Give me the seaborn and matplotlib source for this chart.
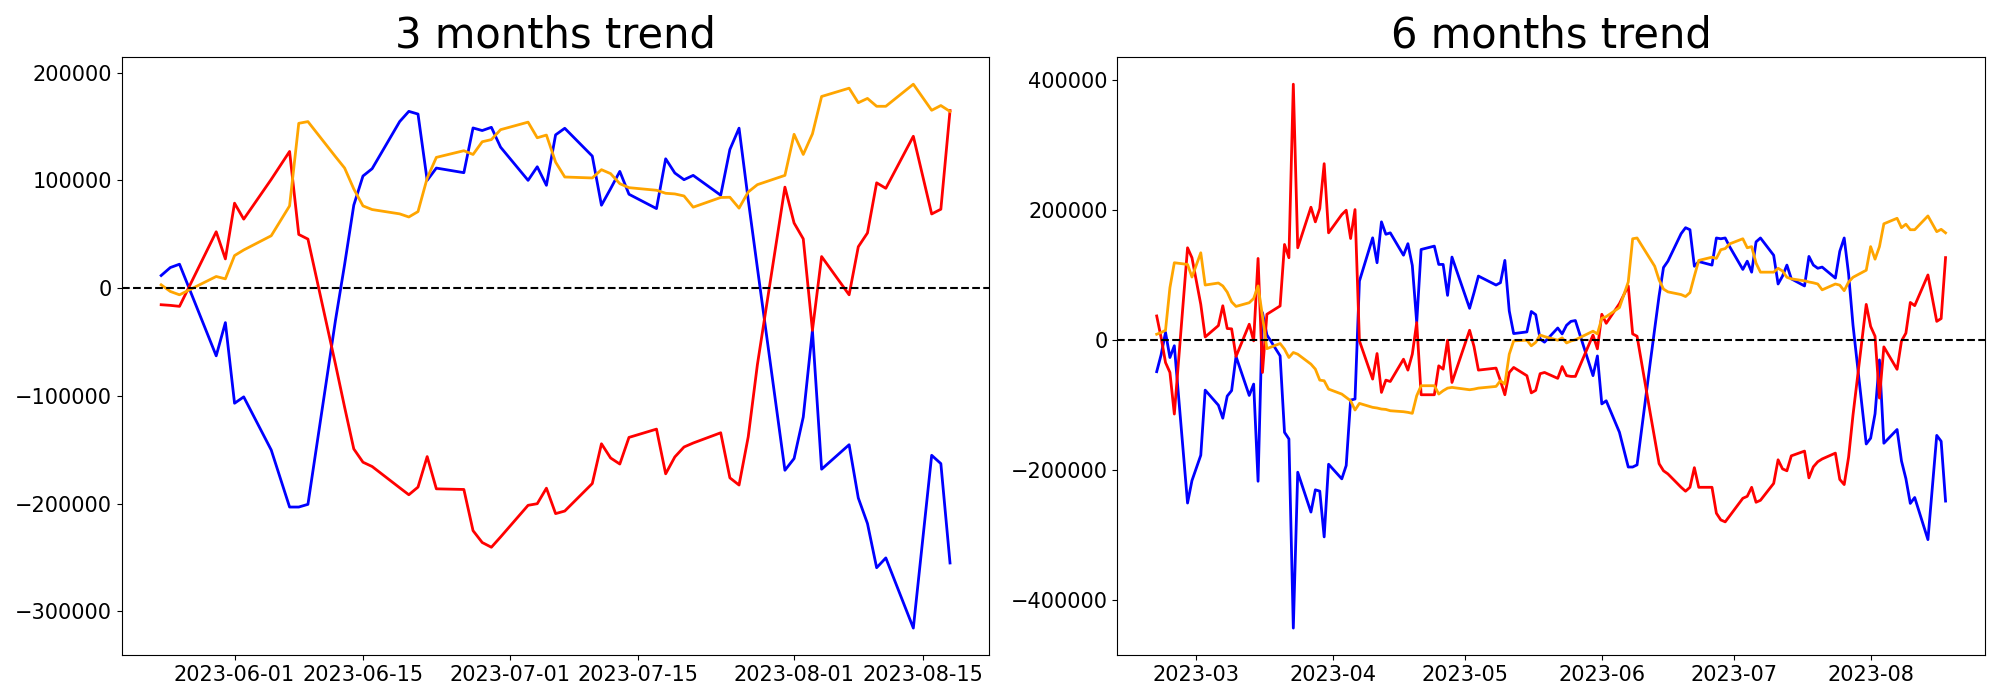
import pandas as pd
import matplotlib
matplotlib.use('Agg')
import matplotlib.pyplot as plt
import seaborn as sns

# trading calendar (KRX holidays removed)
holidays = ['2023-03-01', '2023-05-01', '2023-05-05', '2023-05-29', '2023-06-06', '2023-08-15']
dates_6m = pd.bdate_range('2023-02-20', '2023-08-18', freq='C', holidays=holidays)
dates_3m = dates_6m[-60:]

# 3 months trend
blue_3m = [11700, 19100, 22200, -62800, -32000,
           -106800, -100900, -150200, -203100, -203100, -200600, -30000, 22000, 77000, 104000, 110800,
           154500, 164000, 161500, 100000, 111400, 107100, 148600, 146200, 149200, 130800,
           100000, 112600, 95400, 142200, 148300, 122500, 76900, 92300, 108300, 87100,
           73800, 120000, 106800, 100600, 104600, 86200, 128600, 148400, 82000, 18700, -169000,
           -158100, -119600, -39200, -168000, -145300, -194700, -218400, -259400, -250300,
           -315400, -155100, -162800, -255000]
red_3m = [-15400, -16000, -16900, 52300, 27100,
          78800, 64000, 100900, 126800, 49800, 45500, -70500, -110500, -149200, -161500, -165500,
          -185200, -191700, -184600, -156300, -186200, -186800, -225000, -236000, -240400, -230900,
          -201500, -200000, -185600, -209200, -206800, -181300, -144400, -157600, -163200, -138500,
          -130800, -172300, -156600, -147400, -143700, -134200, -176000, -182700, -138000, -71000, 93700,
          60400, 45700, -39200, 29300, -6200, 38400, 51200, 97700, 92600,
          140900, 68800, 73200, 164700]
orange_3m = [3100, -3100, -6200, 10800, 8600,
             30200, 35400, 48600, 76300, 152900, 154500, 122000, 111400, 92000, 76300, 72900,
             68900, 66000, 71000, 102000, 121300, 127500, 124000, 135800, 137800, 147000,
             154000, 139500, 142000, 116900, 103100, 102200, 109900, 106200, 96900, 93200,
             90800, 88000, 87400, 85500, 75100, 84100, 84300, 74200, 89200, 96000, 104600,
             142700, 124000, 143100, 177800, 185500, 172000, 176000, 168700, 168700,
             189200, 165000, 169400, 163900]

# 6 months trend
blue_6m = [-48400, -22400, 12100, -26600, -8500, -250500, -216000,
           -177000, -76800, -100000, -120000, -86000, -77500, -25000, -85000, -67500, -217000,
           42500, 8200, -24000, -141700, -151900, -442900, -203100, -264400, -230200, -232200,
           -302600, -190800,
           -213300, -192800, -92100, -90500, 91000, 157500, 119200, 182100, 163000, 165200,
           130800, 148500, 115000, 27100, 139600, 144800, 116600, 116600, 69000, 127900,
           49100, 73100, 98700, 84900, 88500, 122800, 45000, 10200, 12800, 44200,
           39300, 1800, -3000, 18800, 9700, 23000, 29000, 30300, -54500, -24200,
           -98000, -93200, -141600, -195100, -195100, -191800, -33900, 17500, 68400, 111900,
           121600, 164000, 173100, 170000, 113800, 121000, 115600, 157300, 156100, 157300, 144000,
           108900, 121600, 104700, 151300, 157300, 130700, 86500, 98600, 115600, 94400,
           83500, 128900, 115600, 110700, 112500, 95600, 136800, 157300, 101700, 23000, -159700,
           -150700, -113200, -30300, -158500, -137400, -185800, -213000, -251100, -242000,
           -306800, -146400, -155500, -247500]
red_6m = [37300, 4100, -34300, -49600, -113600, 142200, 126900,
          55200, 5000, 22500, 53000, 18000, 17500, -25000, 24600, -1000, 125800,
          -49600, 39900, 52700, 147300, 126900, 393900, 142200, 204600, 182100, 202600,
          271600, 165200,
          193300, 200000, 156500, 201000, -1000, -59800, -20500, -80300, -61400, -63500,
          -29200, -46000, -21500, 27100, -83900, -83900, -39400, -44500, 0, -65000,
          15300, -9700, -46000, -42900, -62400, -83900, -49600, -41900, -54600, -81000,
          -77200, -51500, -49600, -58700, -40500, -54500, -55700, -55700, 7900, -13300,
          39900, 26000, 56300, 83500, 9700, 6100, -112600, -151300, -190000, -200900,
          -205700, -226300, -232300, -226300, -196100, -226300, -226300, -266200, -276500, -279500, -270500,
          -243200, -240200, -226300, -249300, -246300, -220300, -184000, -197900, -200900, -177900,
          -170600, -211800, -194800, -187000, -182700, -173700, -214200, -222100, -179700, -115000, 55100,
          21200, 6100, -89000, -10300, -44800, -1200, 10900, 58100, 53200,
          100400, 29000, 33300, 127100]
orange_6m = [9200, 11800, 15300, 80800, 119200, 116600, 97200,
             134500, 84900, 88000, 83500, 74000, 59000, 52000, 57700, 64200, 83500,
             37000, -13000, -5100, -13800, -26600, -18900, -21500, -36800, -44500, -61400,
             -62400, -75200,
             -82900, -88000, -93100, -107400, -97200, -103300, -104300, -105900, -106500, -108500,
             -110000, -111000, -112500, -85400, -70000, -70000, -82800, -77700, -73700, -72600,
             -76200, -75200, -73700, -71100, -62400, -67500, -21500, -1000, 0, -8600,
             -3300, 8000, 5600, 0, 3600, -4200, -1200, 600, 13900, 9700,
             33900, 36300, 50200, 89600, 156100, 157300, 124700, 113800, 92600, 78700,
             74400, 70200, 67200, 73200, 98600, 122800, 127700, 125900, 139200, 141000, 148200,
             156100, 142200, 144000, 118600, 104700, 104700, 110700, 106500, 96800, 94400,
             91400, 89600, 88300, 86500, 77500, 86500, 84700, 76200, 89600, 96800, 107700,
             144000, 124700, 144000, 179100, 187600, 173100, 178500, 170000, 170000,
             191200, 167000, 170600, 165200]

panels = [
    ("3 months trend", dates_3m, blue_3m, red_3m, orange_3m),
    ("6 months trend", dates_6m, blue_6m, red_6m, orange_6m),
]

fig, axes = plt.subplots(1, 2, figsize=(20, 7), dpi=100)

for ax, (title, dates, blue, red, orange) in zip(axes, panels):
    df = pd.DataFrame({'date': dates, 'blue': blue, 'red': red, 'orange': orange})
    for col in ['blue', 'red', 'orange']:
        sns.lineplot(data=df, x='date', y=col, color=col, linewidth=2, ax=ax)
    ax.axhline(0, color='black', linestyle='--', linewidth=1.5)
    ax.set_title(title, fontsize=30)
    ax.set_xlabel('')
    ax.set_ylabel('')
    ax.tick_params(labelsize=15)

plt.tight_layout()
plt.savefig('out.png')
